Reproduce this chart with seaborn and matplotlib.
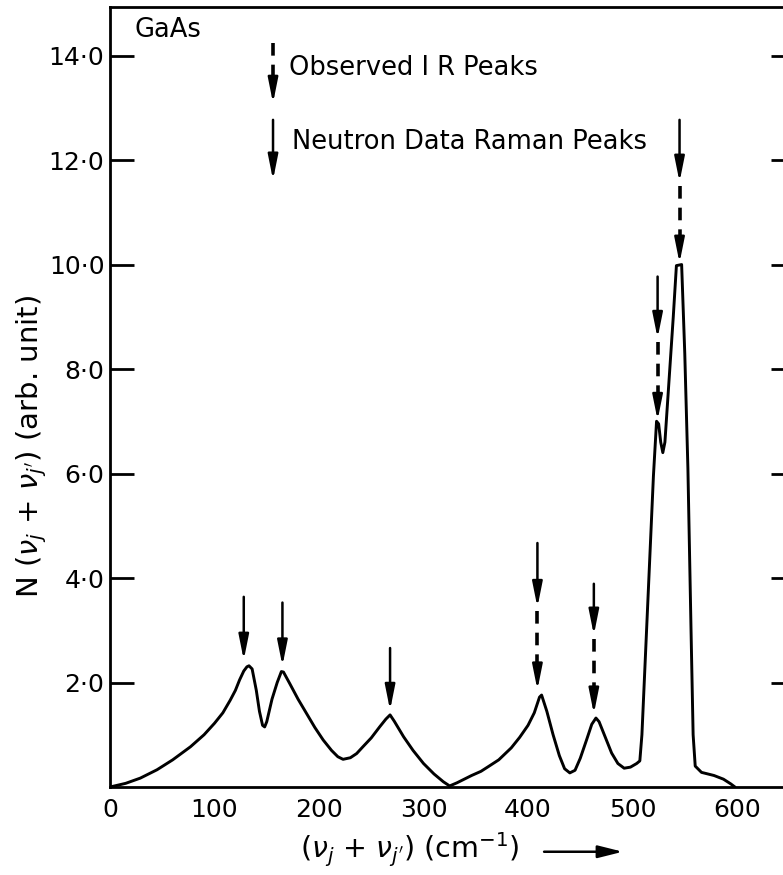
import matplotlib
matplotlib.use("Agg")
import matplotlib.pyplot as plt
from matplotlib.ticker import FuncFormatter
import seaborn as sns

# --- curve ---
curve_x = [0, 15, 29, 45, 60, 77, 90, 100, 108, 115, 120, 124, 128, 131, 133, 136,
           140, 143, 146, 148, 150, 155, 160, 164, 166, 172, 180, 188, 196, 204,
           212, 218, 223, 230, 236, 242, 250, 258, 264, 268, 272, 281, 290, 300,
           310, 319, 325, 332, 340, 346, 355, 362, 372, 384, 392, 400, 406, 411,
           413, 418, 424, 430, 435, 440, 445, 450, 456, 461, 465, 468, 474, 480,
           486, 492, 498, 504, 507, 509, 513, 517, 520, 523, 525, 527, 529, 531,
           535, 539, 542, 547, 550, 553, 556, 558, 560, 566, 578, 587, 594, 598]
curve_y = [0.0, 0.07, 0.17, 0.33, 0.52, 0.77, 1.0, 1.22, 1.42, 1.66, 1.85, 2.05, 2.22, 2.30, 2.32, 2.26,
           1.85, 1.45, 1.18, 1.15, 1.25, 1.68, 2.0, 2.21, 2.20, 1.98, 1.68, 1.41, 1.14, 0.90,
           0.70, 0.58, 0.53, 0.56, 0.64, 0.77, 0.94, 1.15, 1.30, 1.38, 1.26, 0.96, 0.70, 0.45,
           0.25, 0.10, 0.02, 0.08, 0.16, 0.22, 0.30, 0.39, 0.52, 0.75, 0.95, 1.18, 1.42, 1.72,
           1.76, 1.45, 1.00, 0.60, 0.35, 0.27, 0.32, 0.55, 0.90, 1.20, 1.32, 1.25, 0.95, 0.65,
           0.45, 0.36, 0.38, 0.45, 0.50, 1.0, 2.8, 4.6, 5.95, 7.0, 6.95, 6.6, 6.4, 6.6,
           7.8, 9.0, 9.98, 10.0, 8.3, 6.1, 3.0, 1.0, 0.40, 0.28, 0.22, 0.15, 0.06, 0.0]

# neutron data raman peaks (solid arrows)
neutron_x = [128, 165, 268, 409, 463, 524, 545]
neutron_top = [3.64, 3.53, 2.66, 4.67, 3.89, 9.77, 12.77]
neutron_tip = [2.43, 2.32, 1.47, 3.44, 2.91, 8.59, 11.58]

# observed IR peaks (dashed continuation)
ir_x = [409, 463, 524, 545]
ir_start = [3.44, 2.91, 8.59, 11.58]
ir_tip = [1.86, 1.40, 7.02, 10.03]

x_ticks = [0, 100, 200, 300, 400, 500, 600]
y_ticks = [2, 4, 6, 8, 10, 12, 14]

sns.set_style("white")
plt.rcParams["font.family"] = ["DejaVu Sans"]
plt.rcParams["mathtext.fontset"] = "dejavusans"
plt.rcParams["text.color"] = "black"
plt.rcParams["axes.labelcolor"] = "black"

FS = 18.5
HEAD = 0.40  # arrow head length in data units
DASH = (0, (3.5, 2.5))

fig = plt.figure(figsize=(7.83, 8.75), dpi=100)
ax = fig.add_axes([110 / 783, 88 / 875, 673 / 783, 780 / 875])

sns.lineplot(x=curve_x, y=curve_y, ax=ax, color="black", lw=2.1, sort=False)

ax.set_xlim(0, 644)
ax.set_ylim(0, 14.93)
ax.set_xticks(x_ticks)
ax.set_yticks(y_ticks)
ax.yaxis.set_major_formatter(FuncFormatter(lambda v, p: f"{v:.1f}".replace(".", "·")))
ax.tick_params(axis="both", direction="in", width=2, labelsize=18, color="black",
               labelcolor="black")
ax.tick_params(axis="x", length=16, pad=8)
ax.tick_params(axis="y", length=17, pad=4)
for s in ax.spines.values():
    s.set_color("black")
    s.set_linewidth(2)
ax.spines["right"].set_visible(False)

# short inward ticks on the right side
ax2 = ax.twinx()
ax2.set_ylim(ax.get_ylim())
ax2.set_yticks(y_ticks)
ax2.tick_params(axis="y", direction="in", length=9, width=2, labelright=False, color="black")
for s in ax2.spines.values():
    s.set_visible(False)


def solid_arrow(x, top, tip):
    ax.annotate("", xy=(x, tip), xytext=(x, top),
                arrowprops=dict(arrowstyle="-|>,head_length=1.0,head_width=0.2",
                                mutation_scale=15, lw=1.8, color="black",
                                shrinkA=0, shrinkB=0))


def dashed_arrow(x, top, tip):
    ax.plot([x, x], [top - 0.08, tip + HEAD], color="black", lw=2.6, ls=DASH)
    solid_arrow(x, tip + HEAD, tip)


for x, t, b in zip(neutron_x, neutron_top, neutron_tip):
    solid_arrow(x, t, b)
for x, t, b in zip(ir_x, ir_start, ir_tip):
    dashed_arrow(x, t, b)

# key
dashed_arrow(156, 14.33, 13.09)
solid_arrow(156, 12.77, 11.62)
ax.text(171, 13.76, "Observed I R Peaks", fontsize=FS, va="center", ha="left")
ax.text(174, 12.34, "Neutron Data Raman Peaks", fontsize=FS, va="center", ha="left")
ax.text(23, 14.49, "GaAs", fontsize=FS, va="center", ha="left")

ax.set_ylabel(r"N ($\nu_j$ + $\nu_{j'}$) (arb. unit)", fontsize=21)
ax.yaxis.set_label_coords(-0.09, 0.436)
ax.set_xlabel(r"($\nu_j$ + $\nu_{j'}$) (cm$^{-1}$)", fontsize=20.5, va="center")
ax.xaxis.set_label_coords(0.446, -0.081)
ax.annotate("", xy=(0.762, -0.083), xytext=(0.645, -0.083), xycoords="axes fraction",
            annotation_clip=False,
            arrowprops=dict(arrowstyle="-|>,head_length=1.0,head_width=0.25",
                            mutation_scale=15, lw=1.8, color="black",
                            shrinkA=0, shrinkB=0))

plt.savefig("out.png", dpi=100)
